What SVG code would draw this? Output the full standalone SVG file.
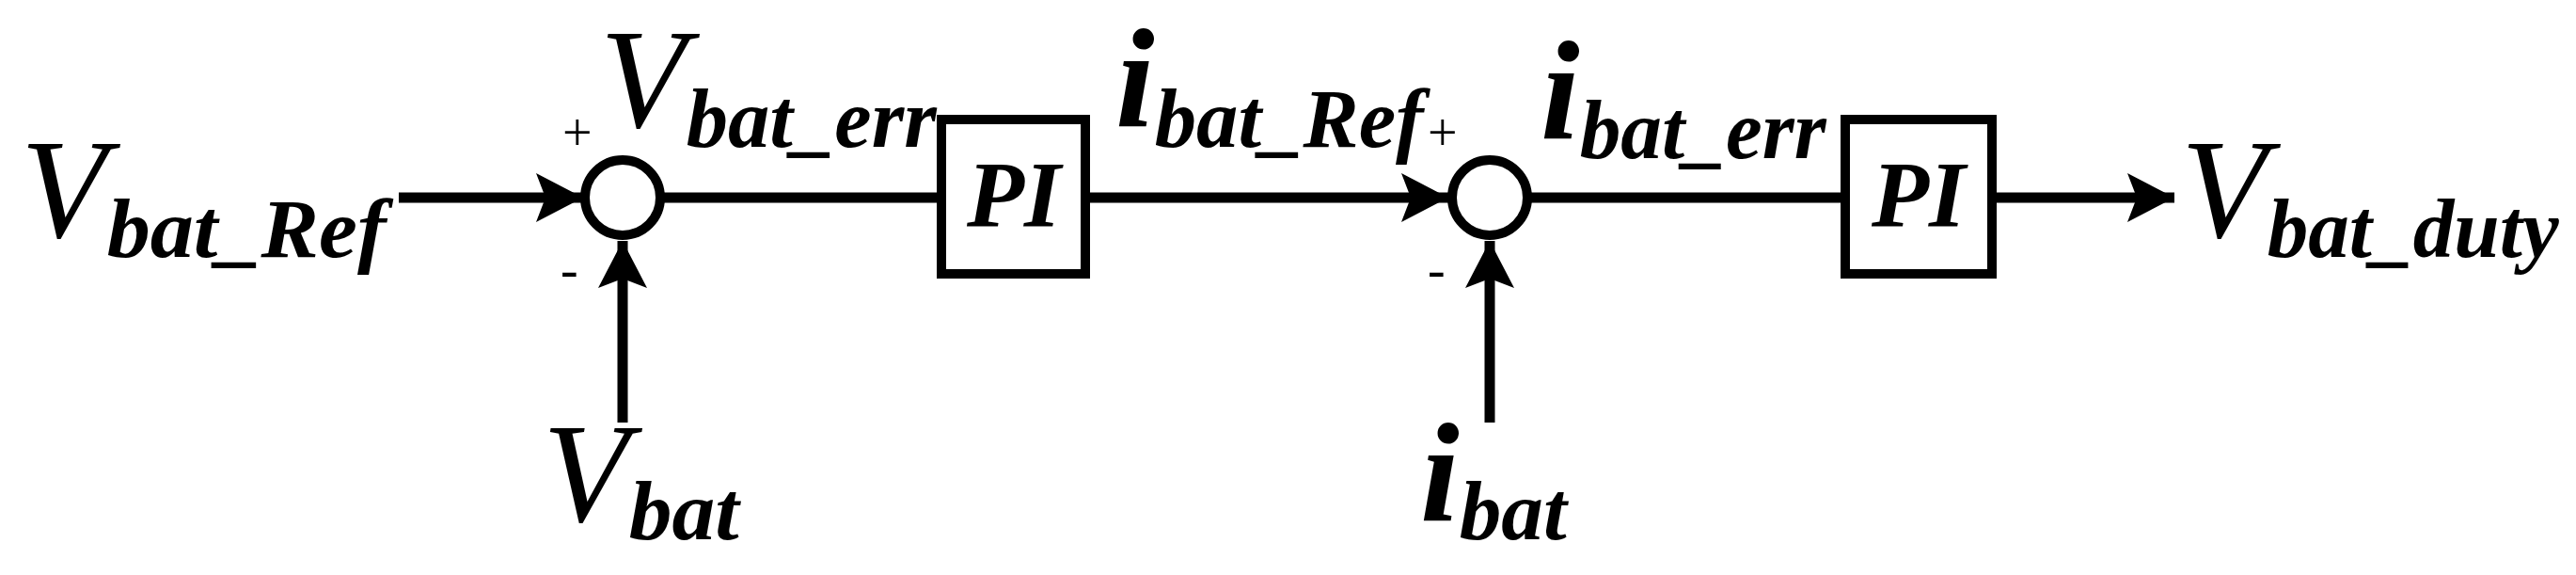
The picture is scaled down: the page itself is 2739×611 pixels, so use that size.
<svg xmlns="http://www.w3.org/2000/svg" width="2739" height="611" viewBox="0 0 2739 611">
<style>
.t{font-family:"Liberation Serif","Times New Roman",serif;font-style:italic;font-weight:bold;fill:#000}
.big{font-size:150px}
.v{font-weight:normal}
.sub{font-size:88px}
.pm{font-family:"Liberation Serif",serif;font-size:56px;fill:#000}
.ln{stroke:#000;stroke-width:11;fill:none}
.nd{stroke:#000;stroke-width:10;fill:#fff}
</style>
<defs>
<marker id="ah" markerUnits="userSpaceOnUse" markerWidth="52" markerHeight="52" refX="50" refY="26" orient="auto">
<path d="M0,0 L50,26 L0,52 L10,26 Z" fill="#000"/>
</marker>
</defs>
<g id="connectors">
<line class="ln" x1="424" y1="210" x2="620" y2="210" marker-end="url(#ah)"/>
<line class="ln" x1="662" y1="449" x2="662" y2="256" marker-end="url(#ah)"/>
<line class="ln" x1="704" y1="210" x2="1001" y2="210"/>
<line class="ln" x1="1154" y1="210" x2="1540" y2="210" marker-end="url(#ah)"/>
<line class="ln" x1="1584" y1="449" x2="1584" y2="256" marker-end="url(#ah)"/>
<line class="ln" x1="1628" y1="210" x2="1960" y2="210"/>
<line class="ln" x1="2120" y1="210" x2="2312" y2="210" marker-end="url(#ah)"/>
</g>
<g id="sum1"><circle class="nd" cx="662" cy="210" r="40"/>
<text class="pm" x="598" y="160">+</text><text class="pm" x="596" y="305">-</text></g>
<g id="sum2"><circle class="nd" cx="1584" cy="210" r="40"/>
<text class="pm" x="1518" y="160">+</text><text class="pm" x="1518" y="305">-</text></g>
<g id="pi1"><rect class="nd" x="1001" y="127" width="153" height="164"/>
<text class="t" x="1078" y="240" font-size="100" text-anchor="middle" font-weight="normal">PI</text></g>
<g id="pi2"><rect class="nd" x="1962" y="127" width="156" height="164"/>
<text class="t" x="2040" y="240" font-size="100" text-anchor="middle" font-weight="normal">PI</text></g>
<g id="labels">
<text class="t" x="22" y="252"><tspan class="big v">V</tspan><tspan class="sub" dy="21" textLength="297" lengthAdjust="spacingAndGlyphs">bat_Ref</tspan></text>
<text class="t" x="577" y="554"><tspan class="big v">V</tspan><tspan class="sub" dy="19" textLength="117" lengthAdjust="spacingAndGlyphs">bat</tspan></text>
<text class="t" x="638" y="135"><tspan class="big v">V</tspan><tspan class="sub" dy="21" textLength="266" lengthAdjust="spacingAndGlyphs">bat_err</tspan></text>
<text class="t" x="1186" y="135"><tspan class="big">i</tspan><tspan class="sub" dy="21" textLength="286" lengthAdjust="spacingAndGlyphs">bat_Ref</tspan></text>
<text class="t" x="1638" y="148"><tspan class="big">i</tspan><tspan class="sub" dy="20" textLength="262" lengthAdjust="spacingAndGlyphs">bat_err</tspan></text>
<text class="t" x="1510" y="554"><tspan class="big">i</tspan><tspan class="sub" dy="19" textLength="114" lengthAdjust="spacingAndGlyphs">bat</tspan></text>
<text class="t" x="2319" y="252"><tspan class="big v">V</tspan><tspan class="sub" dy="21" textLength="310" lengthAdjust="spacingAndGlyphs">bat_duty</tspan></text>
</g>
</svg>
